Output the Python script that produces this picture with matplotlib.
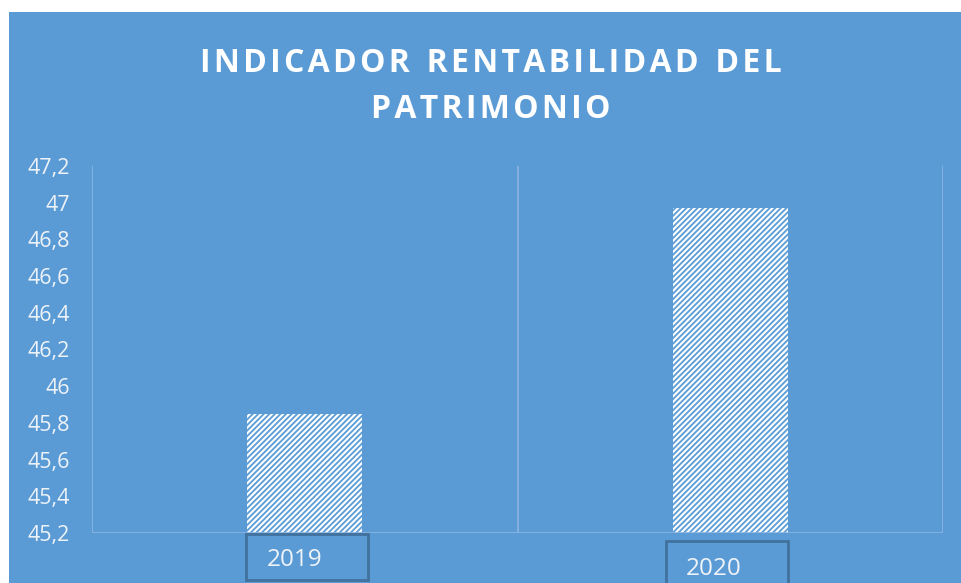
import matplotlib
matplotlib.use('Agg')
import matplotlib.pyplot as plt
from matplotlib.patches import Rectangle
import matplotlib.transforms as mtransforms

# datos del grafico
years = ['2019', '2020']
rentabilidad = [45.85, 46.97]
yticks = [45.2, 45.4, 45.6, 45.8, 46.0, 46.2, 46.4, 46.6, 46.8, 47.0, 47.2]
ytick_labels = ['45,2', '45,4', '45,6', '45,8', '46', '46,2', '46,4', '46,6', '46,8', '47', '47,2']
title_lines = ['INDICADOR RENTABILIDAD DEL', 'PATRIMONIO']

blue = '#5B9BD5'
grid = '#8CB5E2'
txt = '#EEF3F8'

plt.rcParams['font.family'] = ['Open Sans', 'DejaVu Sans']
plt.rcParams['hatch.linewidth'] = 1.3

W, H = 961, 583
fig = plt.figure(figsize=(W / 100, H / 100), dpi=100)
fig.patch.set_facecolor('white')
# fondo azul del area del grafico
fig.add_artist(Rectangle((9 / W, 0), 1 - 9 / W, 1 - 12 / H, transform=fig.transFigure,
                         facecolor=blue, edgecolor='none', zorder=0))

ax = fig.add_axes([92 / W, (H - 533) / H, (943 - 92) / W, (533 - 166) / H])
ax.set_facecolor('none')
x = list(range(len(years)))
ax.bar(x, rentabilidad, width=0.27, bottom=0, facecolor='white', edgecolor=blue,
       hatch='//////', linewidth=0, zorder=2)
ax.set_xlim(-0.5, len(years) - 0.5)
ax.set_ylim(yticks[0], yticks[-1])

for s in ax.spines.values():
    s.set_visible(False)
# lineas verticales entre categorias y eje x
for gx in [i - 0.5 for i in range(len(years) + 1)]:
    ax.axvline(gx, color=grid, lw=1.2, zorder=1)
ax.axhline(yticks[0], color=grid, lw=1.2, zorder=3)

ax.set_yticks(yticks)
ax.set_yticklabels(ytick_labels, color=txt, fontsize=15.5)
ax.tick_params(axis='y', length=0, pad=16)
ax.set_xticks([])

# etiquetas del eje x dentro de cajas (desplazadas como en el original)
trans = mtransforms.blended_transform_factory(ax.transData, ax.transAxes)
box_dx = [-0.138, -0.152]
box_y = [(-0.128, -0.003), (-0.16, -0.022)]
for i, (lab, dx, (y0, y1)) in enumerate(zip(years, box_dx, box_y)):
    ax.add_patch(Rectangle((i + dx, y0), 0.287, y1 - y0, transform=trans,
                           facecolor='none', edgecolor='#41719C', lw=2, clip_on=False))
    ax.text(i + dx + 0.048, (y0 + y1) / 2 - 0.008, lab, transform=trans, color=txt,
            fontsize=17.5, ha='left', va='center', clip_on=False)

# titulo con un poco de espaciado entre letras
hair = '\u200a'
for line, ty in zip(title_lines, [63, 110]):
    spaced = '  '.join(hair.join(w) for w in line.split(' '))
    fig.text(491 / W, 1 - ty / H, spaced, ha='center', va='center', color='white',
             fontsize=23, fontweight='bold')

fig.savefig('out.png', dpi=100)
